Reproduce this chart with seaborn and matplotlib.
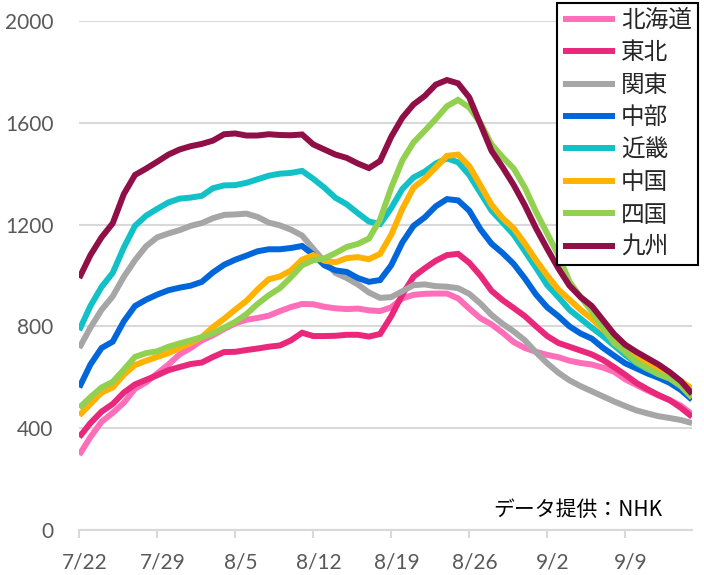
import pandas as pd
import matplotlib
matplotlib.use('Agg')
import matplotlib.pyplot as plt
import matplotlib.transforms as mtransforms
import seaborn as sns

# 地域別の推移（7/22〜9/15、1日ごと）
x_labels = ['7/22', '7/29', '8/5', '8/12', '8/19', '8/26', '9/2', '9/9']
regions = ['北海道', '東北', '関東', '中部', '近畿', '中国', '四国', '九州']
colors = ['#FF6FB9', '#E9277B', '#A6A6A6', '#0066D9', '#12C1C8', '#FFB300', '#92D050', '#8F0F46']

hokkaido = [295, 365, 425, 460, 500, 555, 580, 615, 650, 690, 715, 745,
            765, 790, 812, 826, 833, 842, 860, 876, 888, 887,
            877, 871, 868, 870, 863, 860, 875, 910, 924, 928, 929,
            929, 910, 870, 832, 808, 775, 738, 715, 700, 688, 679,
            665, 656, 650, 638, 622, 592, 570, 548, 528, 510, 488, 455]
tohoku = [365, 420, 465, 495, 540, 572, 590, 608, 628, 640, 652, 658,
          680, 699, 700, 707, 713, 720, 725, 745, 775, 762,
          762, 763, 767, 767, 760, 770, 840, 925, 995, 1028, 1058,
          1080, 1085, 1050, 1000, 940, 903, 872, 840, 800, 762, 735,
          720, 705, 690, 668, 640, 610, 578, 553, 530, 510, 480, 445]
kanto = [715, 795, 865, 918, 995, 1060, 1115, 1150, 1165, 1178, 1195, 1206,
         1225, 1238, 1240, 1243, 1230, 1208, 1197, 1180, 1157, 1105,
         1055, 1010, 990, 965, 933, 912, 915, 938, 962, 965, 958,
         956, 950, 928, 890, 845, 810, 780, 745, 698, 655, 618,
         588, 565, 545, 525, 505, 487, 470, 458, 447, 440, 432, 420]
chubu = [560, 650, 715, 740, 820, 880, 905, 925, 942, 952, 960, 975,
         1012, 1042, 1062, 1078, 1095, 1103, 1103, 1108, 1116, 1082,
         1040, 1020, 1014, 990, 975, 982, 1040, 1130, 1195, 1228, 1272,
         1300, 1295, 1255, 1182, 1125, 1088, 1045, 988, 925, 875, 840,
         800, 772, 752, 716, 685, 655, 635, 615, 598, 578, 550, 512]
kinki = [785, 880, 955, 1010, 1110, 1195, 1235, 1262, 1287, 1302, 1306, 1313,
         1343, 1354, 1355, 1364, 1378, 1392, 1400, 1403, 1411, 1380,
         1345, 1305, 1280, 1245, 1212, 1202, 1265, 1340, 1385, 1408, 1440,
         1460, 1445, 1395, 1325, 1255, 1208, 1160, 1095, 1030, 962, 915,
         865, 830, 795, 762, 725, 688, 656, 632, 612, 596, 570, 532]
chugoku = [450, 495, 540, 560, 610, 648, 665, 680, 695, 715, 735, 758,
           797, 830, 866, 900, 945, 985, 996, 1020, 1062, 1080,
           1058, 1052, 1068, 1072, 1064, 1085, 1160, 1262, 1345, 1380, 1425,
           1470, 1475, 1430, 1355, 1278, 1225, 1185, 1125, 1060, 1000, 945,
           905, 865, 830, 790, 745, 705, 682, 658, 632, 610, 585, 555]
shikoku = [480, 522, 560, 582, 630, 680, 695, 702, 720, 733, 745, 758,
           772, 795, 818, 848, 888, 922, 950, 993, 1040, 1060,
           1067, 1088, 1112, 1124, 1145, 1220, 1345, 1452, 1523, 1568, 1615,
           1665, 1690, 1660, 1600, 1515, 1465, 1420, 1345, 1250, 1165, 1080,
           975, 915, 860, 795, 735, 700, 660, 635, 612, 595, 565, 520]
kyushu = [990, 1080, 1150, 1205, 1320, 1395, 1420, 1447, 1475, 1495, 1508, 1517,
          1530, 1555, 1558, 1550, 1550, 1555, 1552, 1551, 1554, 1515,
          1495, 1475, 1462, 1440, 1422, 1450, 1545, 1620, 1672, 1705, 1750,
          1768, 1755, 1700, 1595, 1490, 1425, 1355, 1275, 1185, 1105, 1028,
          960, 915, 880, 825, 770, 728, 700, 675, 650, 620, 585, 535]

series = [hokkaido, tohoku, kanto, chubu, kinki, chugoku, shikoku, kyushu]
frames = []
for name, vals in zip(regions, series):
    frames.append(pd.DataFrame({'day': range(len(vals)), 'value': vals, 'region': name}))
df = pd.concat(frames, ignore_index=True)

sns.set_style('white')
plt.rcParams['font.family'] = ['Noto Sans CJK JP', 'DejaVu Sans']

fig = plt.figure(figsize=(7.04, 5.75), dpi=100)
ax = fig.add_axes([0.1126, 0.0783, 0.8704, 0.8852])

sns.lineplot(data=df, x='day', y='value', hue='region', hue_order=regions,
             palette=colors, linewidth=4.3, ax=ax, legend=True)
for line in ax.lines:
    line.set_solid_capstyle('butt')
    line.set_solid_joinstyle('miter')

ax.set_xlim(0, 55)
ax.set_ylim(0, 2000)
ax.set_yticks([0, 400, 800, 1200, 1600, 2000])
ax.set_xticks(range(0, 50, 7))
ax.set_xticklabels(x_labels)
ax.set_xlabel('')
ax.set_ylabel('')

grid_c = '#D9D9D9'
ax.yaxis.grid(True, color=grid_c, linewidth=1.5)
ax.set_axisbelow(True)
for side in ['left', 'right', 'top']:
    ax.spines[side].set_visible(False)
ax.spines['bottom'].set_color(grid_c)
ax.spines['bottom'].set_linewidth(1.5)

ax.tick_params(axis='x', which='major', bottom=True, length=6, width=1.5,
               color=grid_c, pad=10, labelsize=15, labelcolor='#595959')
ax.tick_params(axis='y', left=False, pad=15, labelsize=15, labelcolor='#595959')
for lab in ax.get_xticklabels() + ax.get_yticklabels():
    lab.set_fontfamily(['Lato', 'DejaVu Sans'])
# ラベルはカテゴリの中央寄せ
offset = mtransforms.ScaledTranslation(5.5 / 100, 0, fig.dpi_scale_trans)
for lab in ax.get_xticklabels():
    lab.set_transform(lab.get_transform() + offset)

fig.text(662 / 704, (575 - 510) / 575, 'データ提供：NHK', ha='right', va='center',
         fontsize=15, color='black')

handles, labels = ax.get_legend_handles_labels()
leg = ax.legend(handles, labels, loc='upper left', bbox_to_anchor=(557 / 704, 572 / 575),
                bbox_transform=fig.transFigure, fontsize=17, frameon=True, fancybox=False,
                framealpha=1, edgecolor='black', handlelength=2.2, handletextpad=0.25,
                labelspacing=0.4, borderpad=0.25, borderaxespad=0)
leg.get_frame().set_linewidth(1.5)
for h in leg.get_lines():
    h.set_linewidth(4.3)

fig.savefig('out.png', dpi=100)
